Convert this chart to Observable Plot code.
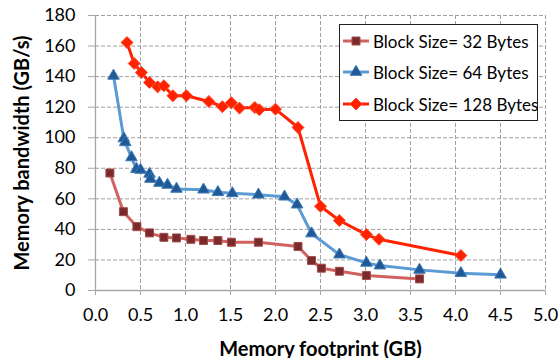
<!DOCTYPE html>
<html>
<head>
<meta charset="utf-8">
<script src="https://cdn.jsdelivr.net/npm/d3@7"></script>
<script src="https://cdn.jsdelivr.net/npm/@observablehq/plot@0.6"></script>
<style>
  body { margin: 0; background: #fff; }
  #wrap { position: relative; width: 560px; height: 358px; font-family: Lato, "Open Sans", sans-serif; }
  #wrap svg { font-family: Lato, "Open Sans", sans-serif; }
  #wrap [aria-label="x-axis label"] text, #wrap [aria-label="y-axis label"] text { font-weight: bold; font-size: 20px; }
  #legend { position: absolute; left: 339px; top: 24px; width: 199px; height: 97px; border: 1px solid #222; background: #fff; box-sizing: border-box; }
  .item { position: absolute; left: 2px; height: 20px; display: flex; align-items: center; font-size: 17px; color: #000; white-space: nowrap; }
  .item svg { margin-right: 3px; }
</style>
</head>
<body>
<div id="wrap"></div>
<script>
// Series data (x = memory footprint in GB, y = bandwidth in GB/s)
const x32 = [0.16, 0.31, 0.46, 0.60, 0.76, 0.90, 1.06, 1.20, 1.36, 1.51, 1.81, 2.25, 2.40, 2.51, 2.71, 3.01, 3.60];
const y32 = [76.9, 51.6, 41.8, 37.7, 34.8, 34.4, 33.5, 32.7, 32.7, 31.6, 31.6, 28.8, 19.6, 14.6, 12.6, 9.8, 7.6];

const x64 = [0.20, 0.315, 0.33, 0.40, 0.455, 0.50, 0.60, 0.61, 0.71, 0.80, 0.90, 1.20, 1.36, 1.52, 1.81, 2.10, 2.24, 2.40, 2.71, 3.01, 3.16, 3.60, 4.06, 4.50];
const y64 = [140.5, 99.5, 97.0, 87.1, 79.5, 78.9, 76.3, 73.0, 70.4, 69.1, 66.5, 66.0, 64.3, 63.6, 62.7, 61.4, 56.2, 37.3, 23.5, 18.1, 16.3, 13.5, 11.3, 10.3];

const x128 = [0.35, 0.43, 0.51, 0.60, 0.69, 0.76, 0.86, 1.01, 1.26, 1.41, 1.51, 1.60, 1.77, 1.82, 2.00, 2.25, 2.50, 2.71, 3.01, 3.15, 4.06];
const y128 = [162.3, 148.6, 142.7, 136.2, 133.3, 134.0, 127.5, 127.5, 123.7, 120.3, 122.9, 119.4, 119.8, 118.3, 118.7, 106.7, 55.1, 45.8, 36.6, 33.5, 22.9];

const seriesNames = ["Block Size= 32 Bytes", "Block Size= 64 Bytes", "Block Size= 128 Bytes"];
const xTicks = [0, 0.5, 1, 1.5, 2, 2.5, 3, 3.5, 4, 4.5, 5];
const yTicks = [0, 20, 40, 60, 80, 100, 120, 140, 160, 180];
const xTitle = "Memory footprint (GB)";
const yTitle = "Memory bandwidth (GB/s)";

const styles = [
  {line: "#d1625f", fill: "#7a2a2a", stroke: "#a24b4b", symbol: "square", r: 4.5},
  {line: "#5b9bd5", fill: "#1f5a96", stroke: "#3e78b4", symbol: "triangle", r: 4.3},
  {line: "#ff2200", fill: "#ff2200", stroke: "#ff4a2a", symbol: "diamond2", r: 5.4}
];

const xs = [x32, x64, x128], ys = [y32, y64, y128];
const data = xs.map((xa, i) => xa.map((x, j) => ({x, y: ys[i][j], s: i})));

const gridStyle = {stroke: "#a0a0a0", strokeOpacity: 1, strokeWidth: 1, strokeDasharray: "4,2"};

const marks = [
  Plot.gridX(xTicks.slice(1), gridStyle),
  Plot.gridY(yTicks.slice(1), gridStyle),
  Plot.ruleX([0], {stroke: "#a6a6a6", strokeWidth: 1.3}),
  Plot.ruleY([0], {stroke: "#a6a6a6", strokeWidth: 1.3}),
  Plot.axisX({ticks: xTicks, tickFormat: d3.format(".1f"), tickSize: 5, tickPadding: 13, stroke: "#a6a6a6", fill: "#000", fontSize: 18,
    label: xTitle, labelAnchor: "center", labelOffset: 65, labelArrow: "none"}),
  Plot.axisY({ticks: yTicks, tickFormat: d3.format("d"), tickSize: 7, tickPadding: 13, stroke: "#a6a6a6", fill: "#000", fontSize: 18,
    label: yTitle, labelAnchor: "center", labelOffset: 81, labelArrow: "none"})
];
data.forEach((d, i) => {
  const st = styles[i];
  marks.push(Plot.line(d, {x: "x", y: "y", stroke: st.line, strokeWidth: 3}));
  marks.push(Plot.dot(d, {x: "x", y: "y", symbol: st.symbol, r: st.r, fill: st.fill, stroke: st.stroke, strokeWidth: 1}));
});

const chart = Plot.plot({
  width: 560,
  height: 358,
  marginLeft: 95,
  marginRight: 15,
  marginTop: 15,
  marginBottom: 68,
  style: {fontSize: "18px", background: "#fff", overflow: "visible"},
  x: {domain: [0, 5]},
  y: {domain: [0, 180]},
  marks
});
const wrap = document.getElementById("wrap");
wrap.appendChild(chart);

// Legend (HTML overlay)
const legend = document.createElement("div");
legend.id = "legend";
const symPath = {
  square: d3.symbol(d3.symbolSquare, 64)(),
  triangle: d3.symbol(d3.symbolTriangle, 58)(),
  diamond2: d3.symbol(d3.symbolDiamond2, 92)()
};
const tops = [6, 37, 69];
seriesNames.forEach((name, i) => {
  const st = styles[i];
  const item = document.createElement("div");
  item.className = "item";
  item.style.top = tops[i] + "px";
  item.innerHTML = `<svg width="28" height="20"><line x1="1" x2="27" y1="10" y2="10" stroke="${st.line}" stroke-width="3"/>` +
    `<path transform="translate(14,10)" d="${symPath[st.symbol]}" fill="${st.fill}" stroke="${st.stroke}" stroke-width="1"/></svg><span>${name}</span>`;
  legend.appendChild(item);
});
wrap.appendChild(legend);
</script>
</body>
</html>
